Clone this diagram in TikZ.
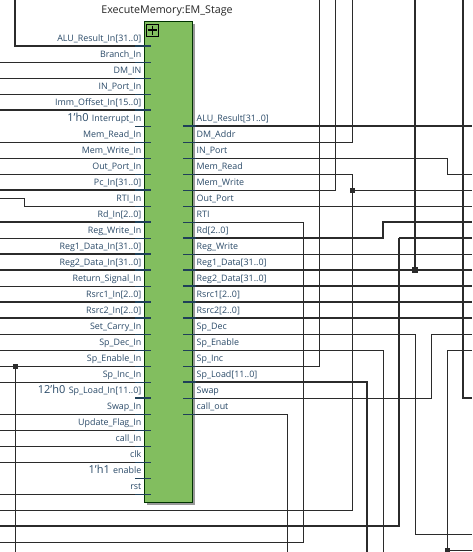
\documentclass[tikz,border=0pt]{standalone}
\usepackage{fontspec}
\setmainfont{Open Sans}
\definecolor{blockgreen}{HTML}{82BE5F}
\definecolor{wirec}{HTML}{2B2B2B}
\definecolor{stubc}{HTML}{1F4058}
\definecolor{labelc}{HTML}{2A4A68}
\tikzset{
  x=1pt,y=-1pt,
  thinw/.style={draw=wirec,line width=0.75pt},
  thickw/.style={draw=wirec,line width=1.6pt},
  thinstub/.style={draw=stubc,line width=0.75pt},
  thickstub/.style={draw=stubc,line width=1.6pt},
  portl/.style={font=\fontsize{8.9}{10}\selectfont,text=labelc,inner sep=0pt,anchor=base east},
  portr/.style={font=\fontsize{8.9}{10}\selectfont,text=labelc,inner sep=0pt,anchor=base west},
  constl/.style={font=\fontsize{11}{12}\selectfont,text=labelc,inner sep=0pt,anchor=base east},
  dotsq/.style={fill=wirec,draw=none,inner sep=0pt,minimum size=5pt,shape=rectangle},
  bigdot/.style={fill=wirec,draw=none,inner sep=0pt,minimum size=6pt,shape=rectangle},
}
\begin{document}
\begin{tikzpicture}
\useasboundingbox (0,0) rectangle (472,552);
\fill[white] (0,0) rectangle (472,552);
% left free-running wires
\foreach \y in {62,78,94,142,158,174,238,286,334,350,366,382,414,430,446,462,494}
  \draw[thinw] (0,\y) -- (150,\y);
\foreach \y in {110,190,222,254,270,302,318}
  \draw[thickw] (0,\y) -- (150,\y);
\draw[thinw] (0,198) -- (24,198) -- (24,206) -- (150,206);
\draw[thickw] (15,0) -- (15,46) -- (150,46);
\draw[thinw] (15,366) -- (15,552);
% right wires
\draw[thickw] (184,126) -- (472,126);
\draw[thinw] (184,142) -- (352,142) -- (352,0);
\draw[thinw] (184,158) -- (447,158) -- (447,174) -- (472,174);
\draw[thinw] (184,174) -- (352,174) -- (352,510) -- (0,510);
\draw[thinw] (352,190) -- (472,190);
\draw[thinw] (184,190) -- (335,190) -- (335,0);
\draw[thinw] (184,206) -- (472,206);
\draw[thinw] (184,222) -- (303,222) -- (303,542) -- (0,542);
\draw[thickw] (184,238) -- (383,238) -- (383,222) -- (472,222);
\draw[thinw] (184,254) -- (472,254);
\draw[thickw] (184,270) -- (472,270);
\draw[thickw] (415,0) -- (415,270);
\draw[thickw] (184,286) -- (472,286);
\draw[thickw] (184,302) -- (472,302);
\draw[thickw] (184,318) -- (472,318);
\draw[thinw] (184,334) -- (415,334) -- (415,534) -- (472,534);
\draw[thinw] (184,350) -- (383,350) -- (383,552);
\draw[thinw] (184,366) -- (319,366) -- (319,0);
\draw[thickw] (184,382) -- (367,382) -- (367,552);
\draw[thinw] (184,398) -- (431,398) -- (431,334) -- (472,334);
\draw[thinw] (184,414) -- (287,414) -- (287,552);
\draw[thickw] (399,238) -- (472,238);
\draw[thickw] (399,238) -- (399,526) -- (0,526);
\draw[thickw] (463,0) -- (463,398) -- (472,398);
\draw[thinw] (447,350) -- (472,350);
\draw[thinw] (447,350) -- (447,552);
\draw[thinw] (447,550) -- (472,550);
% junctions
\node[dotsq] (j1) at (15,366) {};
\node[dotsq] (j2) at (352,190) {};
\node[bigdot] (j3) at (415,270) {};
\node[dotsq] (j4) at (447,550) {};
% block
\fill[black!40] (147,24) rectangle (195,505);
\filldraw[fill=blockgreen,draw=black!80!green,line width=0.75pt] (144,21) rectangle (192,502);
\filldraw[fill=blockgreen,draw=black,line width=0.75pt] (146,24) rectangle (158.5,36);
\draw[black,line width=1.5pt] (147.5,30) -- (157,30) (152.25,25.5) -- (152.25,34.5);
\node[font=\fontsize{10.7}{12}\selectfont,text=black!85,inner sep=0pt] (title) at (167,11) {ExecuteMemory:EM\_Stage};
% stubs
\foreach \y in {62,78,94,142,158,174,206,238,286,334,350,366,382,414,430,446,462,478,494}
  \draw[thinstub] (135,\y) -- (151,\y);
\foreach \y in {46,110,190,222,254,270,302,318,398}
  \draw[thickstub] (135,\y) -- (151,\y);
\draw[thinstub] (135,126) -- (151,126);
\foreach \y in {142,158,174,190,206,222,254,334,350,366,398,414}
  \draw[thinstub] (183,\y) -- (196,\y);
\foreach \y in {126,238,270,286,302,318,382}
  \draw[thickstub] (183,\y) -- (196,\y);
% input labels
\foreach \n/\y/\t in {a/41/ALU\_Result\_In[31..0],b/57/Branch\_In,c/73/DM\_IN,d/89/IN\_Port\_In,e/105/Imm\_Offset\_In[15..0],f/121/Interrupt\_In,g/137/Mem\_Read\_In,h/153/Mem\_Write\_In,i/169/Out\_Port\_In,j/185/Pc\_In[31..0],k/201/RTI\_In,l/217/Rd\_In[2..0],m/233/Reg\_Write\_In,n/249/Reg1\_Data\_In[31..0],o/265/Reg2\_Data\_In[31..0],p/281/Return\_Signal\_In,q/297/Rsrc1\_In[2..0],r/313/Rsrc2\_In[2..0],s/329/Set\_Carry\_In,t/345/Sp\_Dec\_In,u/361/Sp\_Enable\_In,v/377/Sp\_Inc\_In,w/393/Sp\_Load\_In[11..0],x/409/Swap\_In,y/425/Update\_Flag\_In,z/441/call\_In,aa/457/clk,ab/473/enable,ac/489/rst}
  \node[portl] (in\n) at (141.5,\y) {\t};
% constants
\node[constl] (k1) at ([xshift=-3pt]inf.base west) {1'h0};
\node[constl] (k2) at ([xshift=-3pt]inw.base west) {12'h0};
\node[constl] (k3) at ([xshift=-3pt]inab.base west) {1'h1};
% output labels
\foreach \n/\y/\t in {a/121/ALU\_Result[31..0],b/137/DM\_Addr,c/153/IN\_Port,d/169/Mem\_Read,e/185/Mem\_Write,f/201/Out\_Port,g/217/RTI,h/233/Rd[2..0],i/249/Reg\_Write,j/265/Reg1\_Data[31..0],k/281/Reg2\_Data[31..0],l/297/Rsrc1[2..0],m/313/Rsrc2[2..0],n/329/Sp\_Dec,o/345/Sp\_Enable,p/361/Sp\_Inc,q/377/Sp\_Load[11..0],r/393/Swap,s/409/call\_out}
  \node[portr] (out\n) at (196.5,\y) {\t};
\end{tikzpicture}
\end{document}
